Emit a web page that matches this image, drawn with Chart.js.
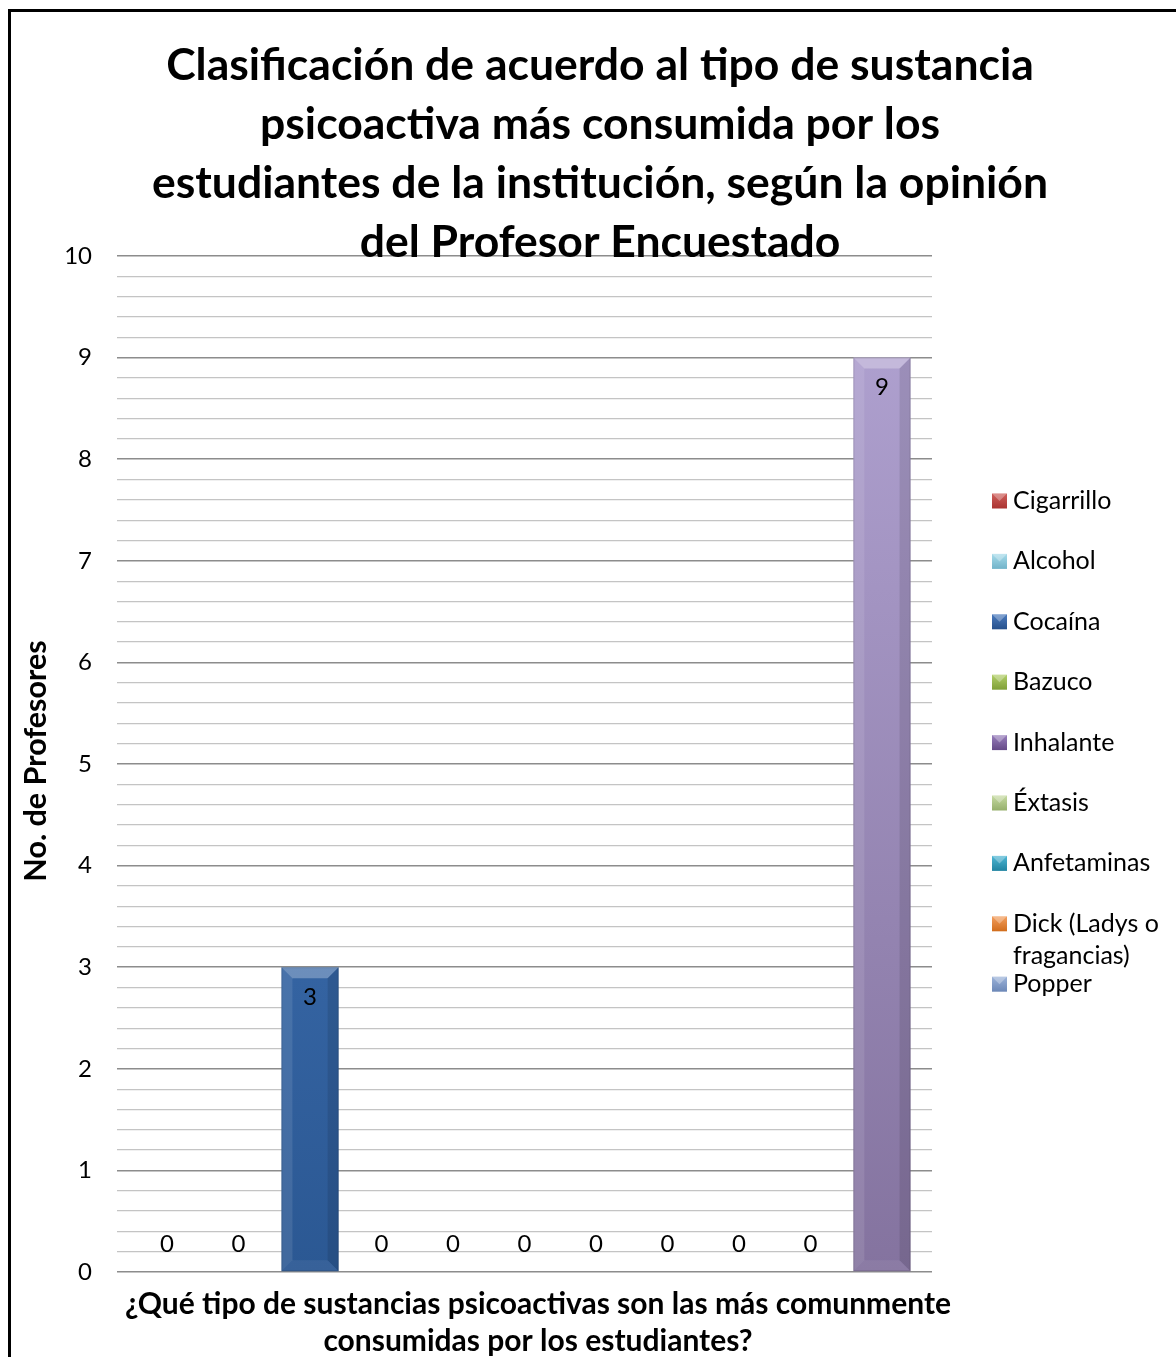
<!DOCTYPE html>
<html><head><meta charset="utf-8">
<script src="https://cdn.jsdelivr.net/npm/chart.js@4/dist/chart.umd.min.js"></script>
<style>html,body{margin:0;padding:0;background:#fff}canvas{display:block}</style>
</head><body>
<canvas id="c" width="1176" height="1357"></canvas>
<script>
// ---- data ----
const titleLines = ["Clasificación de acuerdo al tipo de sustancia", "psicoactiva más consumida por los", "estudiantes de la institución, según la opinión", "del Profesor Encuestado"];
const xTitleLines = ["¿Qué tipo de sustancias psicoactivas son las más comunmente", "consumidas por los estudiantes?"];
const yTitle = "No. de Profesores";
const barPositions = [0, 1, 2, 3, 4, 5, 6, 7, 8, 9, 10];
const barValues = [0, 0, 3, 0, 0, 0, 0, 0, 0, 0, 9];
const legendLabels = ["Cigarrillo", "Alcohol", "Cocaína", "Bazuco", "Inhalante", "Éxtasis", "Anfetaminas", ["Dick (Ladys o", "fragancias)"], "Popper"];
const yTickLabels = ["0", "1", "2", "3", "4", "5", "6", "7", "8", "9", "10"];

// ---- styles ----
const FONT = "Lato, 'Liberation Sans', sans-serif";
const legendColors = [["#D0605C", "#A9322F"], ["#A8DCEB", "#6FB2C8"], ["#4C7CC0", "#244F8A"], ["#B3D06A", "#7E9E36"], ["#9A80BE", "#634885"], ["#C8DCA4", "#94AE6A"], ["#4FB8D6", "#1F829F"], ["#F4A060", "#D06B1A"], ["#9DB4DA", "#6A86B6"]];
const barColors = {2: ["#4A7EC4", "#2B5893"], 10: ["#B2A4D3", "#84739F"]};

const bgPlugin = {
  id: 'bg',
  beforeDraw(chart) {
    const ctx = chart.ctx;
    ctx.save();
    ctx.fillStyle = '#fff';
    ctx.fillRect(0, 0, chart.width, chart.height);
    ctx.restore();
  },
  afterDraw(chart) {
    const ctx = chart.ctx;
    ctx.save();
    ctx.strokeStyle = '#000';
    ctx.lineWidth = 3;
    ctx.beginPath();
    ctx.moveTo(9.5, chart.height + 5);
    ctx.lineTo(9.5, 10.5);
    ctx.lineTo(chart.width + 5, 10.5);
    ctx.stroke();
    // titles
    ctx.fillStyle = '#000';
    ctx.textAlign = 'center';
    ctx.textBaseline = 'middle';
    ctx.font = "bold 44.5px " + FONT;
    titleLines.forEach((t, i) => ctx.fillText(t, 600, 66 + i * 59));
    ctx.font = "bold 30px " + FONT;
    xTitleLines.forEach((t, i) => ctx.fillText(t, 538, 1304 + i * 37));
    ctx.save();
    ctx.translate(36, 761);
    ctx.rotate(-Math.PI / 2);
    ctx.font = "bold 30.5px " + FONT;
    ctx.fillText(yTitle, 0, 0);
    ctx.restore();
    // legend
    ctx.textAlign = 'left';
    ctx.font = "25px " + FONT;
    legendLabels.forEach((lab, i) => {
      const y = 501 + i * 60.4;
      const c = legendColors[i];
      const g = ctx.createLinearGradient(0, y - 8, 0, y + 8);
      g.addColorStop(0, c[0]); g.addColorStop(1, c[1]);
      ctx.fillStyle = g;
      ctx.fillRect(992, y - 7.5, 15, 15);
      ctx.fillStyle = 'rgba(255,255,255,0.3)';
      ctx.beginPath(); ctx.moveTo(992, y - 7.5); ctx.lineTo(1007, y - 7.5); ctx.lineTo(999.5, y); ctx.closePath(); ctx.fill();
      ctx.fillStyle = '#000';
      const lines = Array.isArray(lab) ? lab : [lab];
      lines.forEach((l, k) => ctx.fillText(l, 1013, y + k * 32));
    });
    ctx.restore();
  }
};

const barDeco = {
  id: 'barDeco',
  afterDatasetsDraw(chart) {
    const ctx = chart.ctx;
    const meta = chart.getDatasetMeta(0);
    ctx.save();
    meta.data.forEach((bar, i) => {
      const v = barValues[i];
      const left = bar.x - bar.width / 2, right = bar.x + bar.width / 2;
      const top = bar.y, bottom = bar.base;
      if (v > 0) {
        const b = 11;
        ctx.fillStyle = 'rgba(255,255,255,0.28)';
        ctx.beginPath(); ctx.moveTo(left, top); ctx.lineTo(right, top); ctx.lineTo(right - b, top + b); ctx.lineTo(left + b, top + b); ctx.closePath(); ctx.fill();
        ctx.fillStyle = 'rgba(255,255,255,0.10)';
        ctx.beginPath(); ctx.moveTo(left, top); ctx.lineTo(left + b, top + b); ctx.lineTo(left + b, bottom - b); ctx.lineTo(left, bottom); ctx.closePath(); ctx.fill();
        ctx.fillStyle = 'rgba(0,0,0,0.10)';
        ctx.beginPath(); ctx.moveTo(right, top); ctx.lineTo(right - b, top + b); ctx.lineTo(right - b, bottom - b); ctx.lineTo(right, bottom); ctx.closePath(); ctx.fill();
        ctx.fillStyle = 'rgba(255,255,255,0.06)';
        ctx.beginPath(); ctx.moveTo(left, bottom); ctx.lineTo(left + b, bottom - b); ctx.lineTo(right - b, bottom - b); ctx.lineTo(right, bottom); ctx.closePath(); ctx.fill();
        ctx.strokeStyle = 'rgba(0,0,0,0.12)';
        ctx.lineWidth = 1;
        ctx.strokeRect(left + 0.5, top + 0.5, bar.width - 1, bottom - top - 1);
      }
      ctx.fillStyle = '#000';
      ctx.font = "24px " + FONT;
      ctx.textAlign = 'center';
      ctx.textBaseline = 'middle';
      const ly = v > 0 ? top + 30 : bottom - 28;
      ctx.fillText(String(v), bar.x, ly);
    });
    ctx.restore();
  }
};

function barBg(c) {
  const i = c.dataIndex;
  const cols = barColors[i];
  if (!cols) return 'rgba(0,0,0,0)';
  const area = c.chart.chartArea;
  if (!area) return cols[0];
  const el = c.chart.getDatasetMeta(0).data[i];
  const top = el && isFinite(el.y) ? el.y : area.top;
  const g = c.chart.ctx.createLinearGradient(0, top, 0, area.bottom);
  g.addColorStop(0, cols[0]);
  g.addColorStop(1, cols[1]);
  return g;
}

new Chart(document.getElementById('c'), {
  type: 'bar',
  data: {
    datasets: [{
      data: barPositions.map((p, i) => ({x: p, y: barValues[i]})),
      backgroundColor: barBg,
      borderWidth: 0,
      categoryPercentage: 0.8,
      barPercentage: 1.0
    }]
  },
  options: {
    responsive: false,
    animation: false,
    layout: {padding: {left: 0, top: 256, right: 244, bottom: 85}},
    plugins: {legend: {display: false}, title: {display: false}, tooltip: {enabled: false}},
    scales: {
      x: {
        type: 'linear', min: -0.7, max: 10.7, offset: false, display: false,
        afterBuildTicks(s) { s.ticks = barPositions.map(v => ({value: v})); }
      },
      y: {
        min: 0, max: 10,
        afterFit(s) { s.width = 117; },
        border: {display: false},
        grid: {
          drawTicks: false,
          color: c => (Math.abs(c.tick.value - Math.round(c.tick.value)) < 1e-6 ? '#8c8c8c' : '#c4c4c4'),
          lineWidth: c => (Math.abs(c.tick.value - Math.round(c.tick.value)) < 1e-6 ? 1.5 : 1.2)
        },
        ticks: {
          stepSize: 0.2,
          autoSkip: false,
          padding: 25,
          color: '#000',
          font: {family: FONT, size: 24},
          callback: v => (Math.abs(v - Math.round(v)) < 1e-6 ? yTickLabels[Math.round(v)] : '')
        }
      }
    }
  },
  plugins: [bgPlugin, barDeco]
});
</script>
</body></html>
